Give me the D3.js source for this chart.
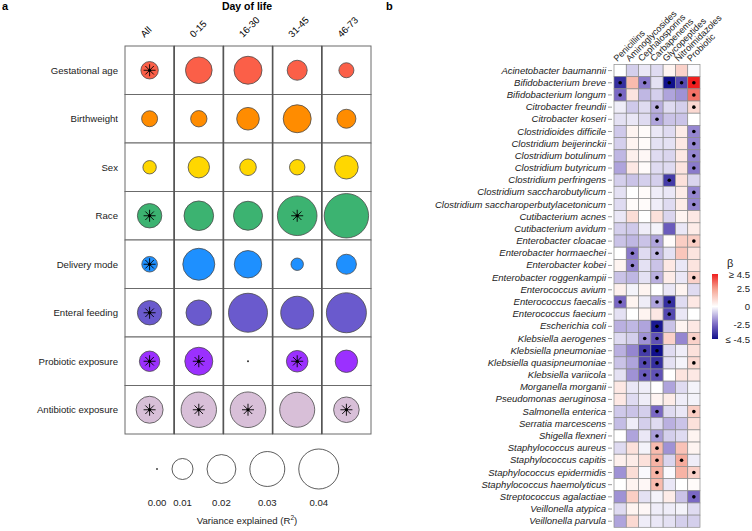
<!DOCTYPE html>
<html>
<head>
<meta charset="utf-8">
<script src="https://cdn.jsdelivr.net/npm/d3@7"></script>
<style>
  body { margin: 0; background: #fff; }
  svg { font-family: "Liberation Sans", Arial, sans-serif; }
</style>
</head>
<body>
<div id="chart"></div>
<script>
// ---- panel a data ----
const predictors = ["Gestational age", "Birthweight", "Sex", "Race", "Delivery mode",
  "Enteral feeding", "Probiotic exposure", "Antibiotic exposure"]
const periods = ["All", "0-15", "16-30", "31-45", "46-73"]
const predictorColors = ["#fb5f48", "#ff8c00", "#ffd700", "#3cb371", "#1e90ff",
  "#6a5acd", "#9b30ff", "#d8bfd8"]
// variance explained (R2) per predictor x period
const r2 = [
  [0.0066, 0.0168, 0.0187, 0.0090, 0.0047],
  [0.0054, 0.0057, 0.0118, 0.0187, 0.0080],
  [0.0036, 0.0104, 0.0059, 0.0050, 0.0129],
  [0.0139, 0.0211, 0.0202, 0.0392, 0.0498],
  [0.0051, 0.0249, 0.0179, 0.0030, 0.0090],
  [0.0139, 0.0154, 0.0379, 0.0266, 0.0400],
  [0.0094, 0.0187, 0.0000, 0.0106, 0.0115],
  [0.0173, 0.0309, 0.0313, 0.0302, 0.0154],
]
const r2Sig = [
  [1, 0, 0, 0, 0],
  [0, 0, 0, 0, 0],
  [0, 0, 0, 0, 0],
  [1, 0, 0, 1, 0],
  [1, 0, 0, 0, 0],
  [1, 0, 0, 0, 0],
  [1, 1, 0, 1, 0],
  [1, 1, 1, 0, 1],
]
const sizeLegend = [0, 0.01, 0.02, 0.03, 0.04]

// ---- panel b data ----
const species = ["Acinetobacter baumannii", "Bifidobacterium breve", "Bifidobacterium longum",
  "Citrobacter freundii", "Citrobacter koseri", "Clostridioides difficile",
  "Clostridium beijerinckii", "Clostridium botulinum", "Clostridium butyricum",
  "Clostridium perfringens", "Clostridium saccharobutylicum",
  "Clostridium saccharoperbutylacetonicum", "Cutibacterium acnes", "Cutibacterium avidum",
  "Enterobacter cloacae", "Enterobacter hormaechei", "Enterobacter kobei",
  "Enterobacter roggenkampii", "Enterococcus avium", "Enterococcus faecalis",
  "Enterococcus faecium", "Escherichia coli", "Klebsiella aerogenes",
  "Klebsiella pneumoniae", "Klebsiella quasipneumoniae", "Klebsiella variicola",
  "Morganella morganii", "Pseudomonas aeruginosa", "Salmonella enterica",
  "Serratia marcescens", "Shigella flexneri", "Staphylococcus aureus",
  "Staphylococcus capitis", "Staphylococcus epidermidis", "Staphylococcus haemolyticus",
  "Streptococcus agalactiae", "Veillonella atypica", "Veillonella parvula"]
const exposures = ["Penicillins", "Aminoglycosides", "Cephalosporins", "Carbapenems",
  "Glycopeptides", "Nitroimidazoles", "Probiotic"]
const beta = [
  [0.0, -0.8, -0.4, -0.6, 0.3, 1.2, -0.1],
  [-3.8, 1.8, -2.2, -0.5, -4.5, -3.2, 4.5],
  [-2.5, 0.7, -1.2, -0.8, -1.5, -1.8, 3.2],
  [-0.3, -0.9, -0.6, -1.3, -0.6, -0.8, 1.0],
  [-0.5, -0.4, -0.6, -1.5, -1.0, -1.0, 0.0],
  [-0.9, 0.3, 0.1, -0.4, -0.6, 0.5, -2.0],
  [-0.8, 0.3, 0.1, -0.5, -0.5, 0.6, -2.0],
  [-1.2, 0.4, 0.2, -0.6, -0.7, 0.6, -2.0],
  [-1.5, 0.6, 0.1, -0.6, -0.6, 0.7, -2.2],
  [-0.8, -1.0, -0.8, -0.8, -3.5, 0.8, -0.7],
  [-0.5, 0.0, 0.1, -0.3, -0.4, 0.5, -2.0],
  [-0.6, 0.1, 0.1, -0.3, -0.6, 0.5, -2.0],
  [-0.4, 0.9, 0.0, 0.8, -0.7, 0.3, 0.6],
  [-0.8, -0.9, -0.3, -0.2, -2.8, -0.4, 0.5],
  [-1.0, -1.2, -1.0, -1.5, 0.1, 1.3, 1.3],
  [0.0, -2.2, -0.6, -1.2, -0.5, 1.5, 0.7],
  [0.3, -2.0, -0.5, -1.0, 0.6, -0.4, 0.7],
  [-1.0, -1.2, -0.5, -1.3, 0.5, -0.4, 1.2],
  [0.4, -0.2, 0.3, 0.0, -0.4, 0.3, -0.6],
  [-2.5, 0.3, -0.3, -1.5, -3.8, -0.6, 0.6],
  [-0.5, 0.0, 0.3, 0.6, -3.2, -0.4, 0.0],
  [-1.3, -1.2, -1.5, -4.3, -1.0, 0.3, 0.6],
  [-0.6, -0.8, -1.8, -3.0, 1.2, -2.0, 1.2],
  [-1.3, -2.0, -3.5, -4.5, -0.6, -0.3, 0.8],
  [-1.0, -1.5, -3.2, -3.8, -0.5, -0.2, 1.0],
  [-0.5, -1.8, -2.8, -3.0, 0.0, 0.7, 0.6],
  [0.6, -0.4, -0.3, 0.0, -1.5, -0.6, -0.2],
  [0.6, -0.6, -0.3, 0.3, 0.5, -0.3, -0.2],
  [-0.9, -1.0, -0.8, -2.5, -0.6, -0.4, 1.3],
  [-1.1, -0.3, -0.8, -0.6, -1.3, -1.0, 0.8],
  [0.0, -1.5, -0.4, -1.6, -0.8, -0.6, 0.3],
  [-0.6, 0.8, -0.2, 1.8, -1.8, 1.6, 0.3],
  [0.4, 0.5, 0.8, 2.0, -0.7, 2.2, -0.3],
  [-1.8, 0.9, -0.1, 2.0, -0.1, 2.0, 1.2],
  [0.0, 0.3, 0.2, 1.8, -0.4, 0.0, 0.1],
  [-1.8, 1.3, -0.5, -0.2, 0.5, -1.0, -2.5],
  [-0.6, 0.3, 0.2, -0.3, -0.3, -0.2, -0.6],
  [-1.5, 1.0, -0.3, -0.4, -0.5, -0.8, -0.8],
]
// significant cells: list of column indices per species
const betaSig = [[], [0, 2, 4, 5, 6], [0, 6], [3, 6], [3], [6], [6], [6], [6], [4], [6], [6],
  [], [], [3, 6], [1, 3], [1], [3, 6], [], [0, 3, 4], [4], [3], [2, 3, 6], [2, 3], [2, 3, 6],
  [2, 3], [], [], [3, 6], [], [3], [3], [3, 5], [3, 6], [3], [6], [], []]
const betaTicks = [4.5, 2.5, 0, -2.5, -4.5]
const betaTickLabels = ["≥ 4.5", "2.5", "0", "-2.5", "≤ -4.5"]

const width = 752
const height = 531

const svg = d3.select("#chart")
  .append("svg")
  .attr("width", width)
  .attr("height", height)

// ================= PANEL A =================
const xA = d3.scaleBand().domain(periods).range([125, 371])
const yA = d3.scaleBand().domain(predictors).range([46, 434])
const rA = d3.scaleSqrt().domain([0, 0.04]).range([1, 20])

const gA = svg.append("g")

gA.append("text").attr("x", 2).attr("y", 10)
  .attr("font-weight", "bold").attr("font-size", 11).text("a")

gA.append("text").attr("x", 247).attr("y", 10)
  .attr("text-anchor", "middle").attr("font-weight", "bold").attr("font-size", 10.5)
  .text("Day of life")

gA.selectAll(".colLab").data(periods).enter()
  .append("text")
  .attr("font-size", 9.6)
  .attr("transform", d => `translate(${xA(d) + xA.bandwidth() / 2 - 5},38) rotate(-45)`)
  .text(d => d)

gA.selectAll(".rowLab").data(predictors).enter()
  .append("text")
  .attr("x", 118)
  .attr("y", d => yA(d) + yA.bandwidth() / 2 + 3.5)
  .attr("text-anchor", "end")
  .attr("font-size", 9.6)
  .attr("fill", "#222")
  .text(d => d)

const cellsA = []
predictors.forEach((p, i) => periods.forEach((q, j) => {
  cellsA.push({ p, q, i, j, v: r2[i][j], s: r2Sig[i][j] })
}))

gA.selectAll(".cellA").data(cellsA).enter()
  .append("rect")
  .attr("x", d => xA(d.q))
  .attr("y", d => yA(d.p))
  .attr("width", xA.bandwidth())
  .attr("height", yA.bandwidth())
  .attr("fill", "#fff")
  .attr("stroke", "#6b6b6b")
  .attr("stroke-width", 1)

// thicker separators between columns
gA.selectAll(".sep").data(periods.slice(1)).enter()
  .append("line")
  .attr("x1", d => xA(d)).attr("x2", d => xA(d))
  .attr("y1", 46).attr("y2", 434)
  .attr("stroke", "#555").attr("stroke-width", 1.6)

gA.selectAll(".bubble").data(cellsA).enter()
  .append("circle")
  .attr("cx", d => xA(d.q) + xA.bandwidth() / 2)
  .attr("cy", d => yA(d.p) + yA.bandwidth() / 2)
  .attr("r", d => rA(d.v))
  .attr("fill", d => d.v > 0 ? predictorColors[d.i] : "#333")
  .attr("stroke", d => d.v > 0 ? "#4a4a4a" : "none")
  .attr("stroke-width", 0.8)

const star = (cx, cy, s) => {
  let p = ""
  for (let k = 0; k < 4; k++) {
    const a = k * Math.PI / 4
    p += `M${cx - s * Math.cos(a)},${cy - s * Math.sin(a)}L${cx + s * Math.cos(a)},${cy + s * Math.sin(a)}`
  }
  return p
}

const sigA = cellsA.filter(d => d.s)
gA.selectAll(".star").data(sigA).enter()
  .append("path")
  .attr("d", d => star(xA(d.q) + xA.bandwidth() / 2, yA(d.p) + yA.bandwidth() / 2, 6))
  .attr("stroke", "#000").attr("stroke-width", 0.9).attr("fill", "none")
gA.selectAll(".starDot").data(sigA).enter()
  .append("circle")
  .attr("cx", d => xA(d.q) + xA.bandwidth() / 2)
  .attr("cy", d => yA(d.p) + yA.bandwidth() / 2)
  .attr("r", 1.6).attr("fill", "#000")

// size legend
let lx = 157
const legendPos = sizeLegend.map((v, k) => {
  if (k > 0) lx += rA(sizeLegend[k - 1]) + 14 + rA(v)
  return lx
})
gA.selectAll(".legC").data(sizeLegend).enter()
  .append("circle")
  .attr("cx", (d, k) => legendPos[k])
  .attr("cy", 469)
  .attr("r", d => rA(d))
  .attr("fill", d => d > 0 ? "none" : "#444")
  .attr("stroke", d => d > 0 ? "#333" : "none")
  .attr("stroke-width", 0.8)
gA.selectAll(".legT").data(sizeLegend).enter()
  .append("text")
  .attr("x", (d, k) => legendPos[k])
  .attr("y", 506)
  .attr("text-anchor", "middle")
  .attr("font-size", 9.6)
  .attr("fill", "#222")
  .text(d => d.toFixed(2))
const vt = gA.append("text").attr("x", 247).attr("y", 524)
  .attr("text-anchor", "middle").attr("font-size", 9.6).attr("fill", "#222")
vt.append("tspan").text("Variance explained (R")
vt.append("tspan").attr("font-size", 6.5).attr("dy", -4).text("2")
vt.append("tspan").attr("dy", 4).text(")")

// ================= PANEL B =================
const xB = d3.scaleBand().domain(exposures).range([614, 700])
const yB = d3.scaleBand().domain(species).range([64.5, 527.3])
const color = d3.scaleLinear()
  .domain([-4.5, -2.5, 0, 2.5, 4.5])
  .range(["#10108c", "#7a68c4", "#ffffff", "#f5a08e", "#f01e1e"])
  .clamp(true)

const gB = svg.append("g")
gB.append("text").attr("x", 386).attr("y", 10)
  .attr("font-weight", "bold").attr("font-size", 11).text("b")

const cellsB = []
species.forEach((s, i) => exposures.forEach((e, j) => {
  cellsB.push({ s, e, v: beta[i][j], sig: betaSig[i].includes(j) })
}))

gB.selectAll(".cellB").data(cellsB).enter()
  .append("rect")
  .attr("x", d => xB(d.e))
  .attr("y", d => yB(d.s))
  .attr("width", xB.bandwidth())
  .attr("height", yB.bandwidth())
  .attr("fill", d => color(d.v))
  .attr("stroke", "#8c8c8c")
  .attr("stroke-width", 0.7)

gB.selectAll(".dotB").data(cellsB.filter(d => d.sig)).enter()
  .append("circle")
  .attr("cx", d => xB(d.e) + xB.bandwidth() / 2)
  .attr("cy", d => yB(d.s) + yB.bandwidth() / 2)
  .attr("r", 1.8)
  .attr("fill", "#000")

const yAxisB = d3.axisLeft(yB).tickSize(4).tickPadding(2)
const axB = gB.append("g")
  .attr("transform", "translate(612,0)")
  .call(yAxisB)
axB.select(".domain").remove()
axB.selectAll(".tick line").attr("stroke", "#999")
axB.selectAll(".tick text")
  .attr("font-size", 9.5)
  .attr("font-style", "italic")
  .attr("font-family", "'Liberation Sans', Arial, sans-serif")
  .attr("fill", "#222")

gB.selectAll(".expLab").data(exposures).enter()
  .append("text")
  .attr("font-size", 9)
  .attr("fill", "#222")
  .attr("transform", d => `translate(${xB(d) + xB.bandwidth() / 2 - 3},62) rotate(-45)`)
  .text(d => d)

// colour legend
const defs = svg.append("defs")
const grad = defs.append("linearGradient").attr("id", "betaGrad")
  .attr("x1", 0).attr("y1", 1).attr("x2", 0).attr("y2", 0)
d3.range(0, 1.0001, 0.05).forEach(t => {
  grad.append("stop").attr("offset", t).attr("stop-color", color(-4.5 + 9 * t))
})
const yLeg = d3.scaleLinear().domain([-4.5, 4.5]).range([339, 274])
gB.append("rect")
  .attr("x", 712).attr("y", yLeg(4.5))
  .attr("width", 6).attr("height", yLeg(-4.5) - yLeg(4.5))
  .attr("fill", "url(#betaGrad)")
gB.append("text").attr("x", 727).attr("y", 267)
  .attr("font-size", 11).attr("fill", "#222").text("β")
gB.selectAll(".legB").data(betaTicks).enter()
  .append("text")
  .attr("x", 750)
  .attr("y", d => yLeg(d) + 3.5)
  .attr("text-anchor", "end")
  .attr("font-size", 9.6)
  .attr("fill", "#222")
  .text((d, k) => betaTickLabels[k])
</script>
</body>
</html>
